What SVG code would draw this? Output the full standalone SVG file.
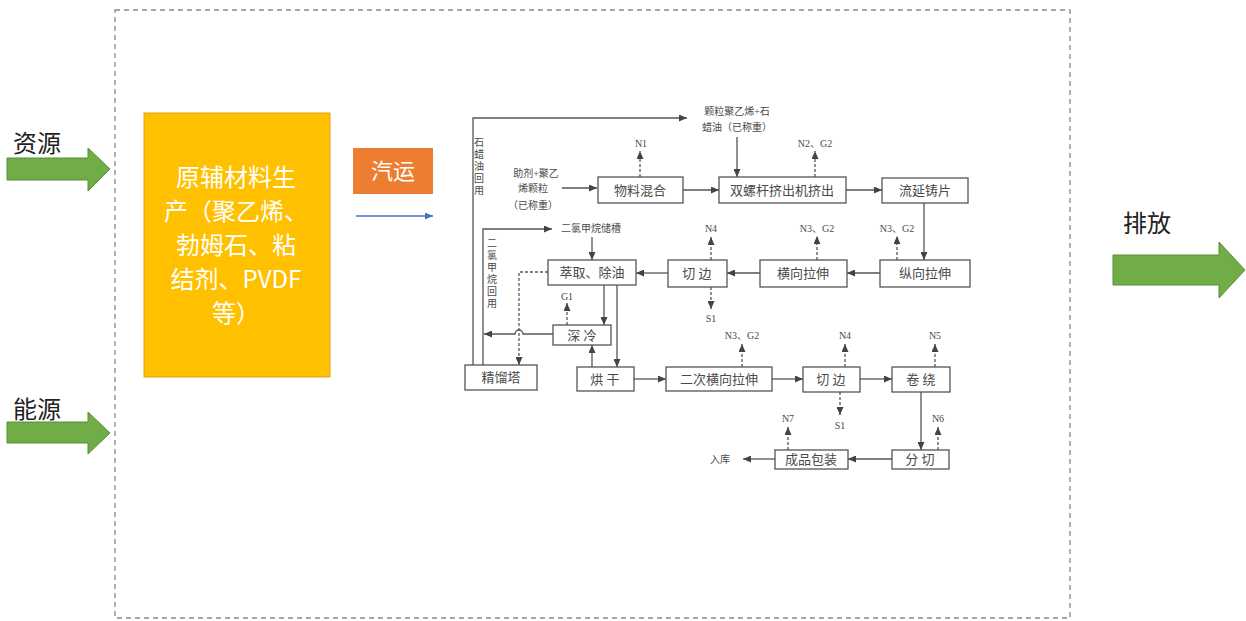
<svg xmlns="http://www.w3.org/2000/svg" width="1246" height="621" viewBox="0 0 1246 621">
<style>
.big{font-family:"Noto Sans CJK SC","Liberation Sans",sans-serif;}
.fc{font-family:"Liberation Serif","Noto Sans CJK SC",serif;fill:#4a4a4a;}
.bx{fill:#ffffff;stroke:#555;stroke-width:1.3;}
.ln{fill:none;stroke:#555;stroke-width:1.3;}
.dl{fill:none;stroke:#555;stroke-width:1.3;stroke-dasharray:3,2;}
.lbl{font-size:13px;text-anchor:middle;}
.sm{font-size:10px;text-anchor:middle;}
.gr{fill:#70ad47;stroke:#5b8f3a;stroke-width:1;}
</style>
<defs>
<marker id="ah" markerWidth="8" markerHeight="7" refX="8" refY="3.5" orient="auto" markerUnits="userSpaceOnUse">
<path d="M0,0 L8,3.5 L0,7 z" fill="#444"/>
</marker>
<marker id="bh" markerWidth="8" markerHeight="7" refX="8" refY="3.5" orient="auto" markerUnits="userSpaceOnUse">
<path d="M0,0 L8,3.5 L0,7 z" fill="#4472c4"/>
</marker>
</defs>
<rect width="1246" height="621" fill="#ffffff"/>
<g id="boundary">
<rect x="115" y="10" width="955" height="608" fill="none" stroke="#7f8ba3" stroke-width="1.3" stroke-dasharray="5,4"/>
</g>
<g id="resource">
<text class="big" x="13" y="152" font-size="24" fill="#222">资源</text>
<path class="gr" d="M7,158 H88 V148 L110,169 L88,191 V180 H7 Z"/>
</g>
<g id="energy">
<text class="big" x="13" y="418" font-size="24" fill="#222">能源</text>
<path class="gr" d="M7,422 H88 V412 L110,433 L88,454 V443 H7 Z"/>
</g>
<g id="emission">
<text class="big" x="1123" y="232" font-size="24" fill="#222">排放</text>
<path class="gr" d="M1113,255 H1219 V242 L1245,270 L1219,298 V285 H1113 Z"/>
</g>
<g id="raw-material">
<rect x="144" y="113" width="186" height="264" fill="#ffc000" stroke="#d9a21a" stroke-width="1"/>
<g class="big" font-size="24" fill="#ffffff" text-anchor="middle">
<text x="236" y="186">原辅材料生</text>
<text x="236" y="220">产（聚乙烯、</text>
<text x="236" y="254">勃姆石、粘</text>
<text x="236" y="288">结剂、PVDF</text>
<text x="236" y="322">等）</text>
</g>
</g>
<g id="transport">
<rect x="353" y="148" width="80" height="46" fill="#ed7d31"/>
<text class="big" x="393" y="179" font-size="22" fill="#ffffff" text-anchor="middle">汽运</text>
<line x1="356" y1="216" x2="433" y2="216" stroke="#4472c4" stroke-width="1.3" marker-end="url(#bh)"/>
</g>
<g id="connectors">
<polyline class="ln" points="473,365 473,118 687,118" marker-end="url(#ah)"/>
<line class="ln" x1="562" y1="188" x2="597" y2="188" marker-end="url(#ah)"/>
<line class="ln" x1="737" y1="137" x2="737" y2="177" marker-end="url(#ah)"/>
<line class="ln" x1="683" y1="190" x2="719" y2="190" marker-end="url(#ah)"/>
<line class="ln" x1="846" y1="190" x2="882" y2="190" marker-end="url(#ah)"/>
<line class="ln" x1="924" y1="203" x2="924" y2="260" marker-end="url(#ah)"/>
<line class="ln" x1="880" y1="273" x2="847" y2="273" marker-end="url(#ah)"/>
<line class="ln" x1="760" y1="273" x2="727" y2="273" marker-end="url(#ah)"/>
<line class="ln" x1="668" y1="273" x2="636" y2="273" marker-end="url(#ah)"/>
<line class="ln" x1="592" y1="237" x2="592" y2="260" marker-end="url(#ah)"/>
<polyline class="ln" points="483,365 483,229 552,229" marker-end="url(#ah)"/>
<line class="ln" x1="604" y1="285" x2="604" y2="325" marker-end="url(#ah)"/>
<line class="ln" x1="617" y1="285" x2="617" y2="367" marker-end="url(#ah)"/>
<line class="ln" x1="592" y1="367" x2="592" y2="345" marker-end="url(#ah)"/>
<path class="ln" d="M553,334 L523,334 A4,4 0 0 0 515,334 L484,334" marker-end="url(#ah)"/>
<polyline class="dl" points="548,272 519,272 519,365" marker-end="url(#ah)"/>
<line class="ln" x1="634" y1="379" x2="666" y2="379" marker-end="url(#ah)"/>
<line class="ln" x1="772" y1="379" x2="803" y2="379" marker-end="url(#ah)"/>
<line class="ln" x1="860" y1="379" x2="892" y2="379" marker-end="url(#ah)"/>
<line class="ln" x1="921" y1="392" x2="921" y2="450" marker-end="url(#ah)"/>
<line class="ln" x1="892" y1="459" x2="848" y2="459" marker-end="url(#ah)"/>
<line class="ln" x1="775" y1="459" x2="743" y2="459" marker-end="url(#ah)"/>
<line class="dl" x1="640" y1="177" x2="640" y2="151" marker-end="url(#ah)"/>
<line class="dl" x1="815" y1="177" x2="815" y2="151" marker-end="url(#ah)"/>
<line class="dl" x1="897" y1="260" x2="897" y2="236" marker-end="url(#ah)"/>
<line class="dl" x1="817" y1="260" x2="817" y2="236" marker-end="url(#ah)"/>
<line class="dl" x1="711" y1="260" x2="711" y2="237" marker-end="url(#ah)"/>
<line class="dl" x1="711" y1="287" x2="711" y2="309" marker-end="url(#ah)"/>
<line class="dl" x1="567" y1="325" x2="567" y2="303" marker-end="url(#ah)"/>
<line class="dl" x1="742" y1="367" x2="742" y2="344" marker-end="url(#ah)"/>
<line class="dl" x1="845" y1="367" x2="845" y2="344" marker-end="url(#ah)"/>
<line class="dl" x1="840" y1="392" x2="840" y2="415" marker-end="url(#ah)"/>
<line class="dl" x1="935" y1="367" x2="935" y2="344" marker-end="url(#ah)"/>
<line class="dl" x1="938" y1="450" x2="938" y2="427" marker-end="url(#ah)"/>
<line class="dl" x1="788" y1="450" x2="788" y2="427" marker-end="url(#ah)"/>
</g>
<g id="flow-labels" class="fc">
<text class="sm" x="737" y="115" font-size="11">颗粒聚乙烯+石</text>
<text class="sm" x="737" y="131" font-size="11">蜡油（已称重）</text>
<text class="sm" x="536" y="177" font-size="11">助剂+聚乙</text>
<text class="sm" x="533" y="192" font-size="11">烯颗粒</text>
<text class="sm" x="533" y="209" font-size="11">（已称重）</text>
<text class="sm" x="591" y="232" font-size="11">二氯甲烷储槽</text>
<g class="sm">
<text x="479" y="146">石</text><text x="479" y="158">蜡</text><text x="479" y="170">油</text><text x="479" y="182">回</text><text x="479" y="194">用</text>
<text x="492" y="247">二</text><text x="492" y="259">氯</text><text x="492" y="271">甲</text><text x="492" y="283">烷</text><text x="492" y="295">回</text><text x="492" y="307">用</text>
</g>
<text class="sm" x="641" y="147">N1</text>
<text class="sm" x="815" y="147">N2、G2</text>
<text class="sm" x="897" y="232">N3、G2</text>
<text class="sm" x="817" y="232">N3、G2</text>
<text class="sm" x="711" y="232">N4</text>
<text class="sm" x="711" y="322">S1</text>
<text class="sm" x="567" y="300">G1</text>
<text class="sm" x="742" y="339">N3、G2</text>
<text class="sm" x="845" y="339">N4</text>
<text class="sm" x="840" y="429">S1</text>
<text class="sm" x="935" y="339">N5</text>
<text class="sm" x="938" y="422">N6</text>
<text class="sm" x="788" y="422">N7</text>
<text class="sm" x="720" y="463" font-size="11">入库</text>
</g>
<g id="mixing" class="fc"><rect class="bx" x="598" y="177" width="85" height="26"/><text class="lbl" x="640" y="194.5">物料混合</text></g>
<g id="extrusion" class="fc"><rect class="bx" x="719" y="177" width="127" height="26"/><text class="lbl" x="782" y="194.5">双螺杆挤出机挤出</text></g>
<g id="casting" class="fc"><rect class="bx" x="882" y="178" width="86" height="25"/><text class="lbl" x="925" y="195">流延铸片</text></g>
<g id="md-stretch" class="fc"><rect class="bx" x="880" y="260" width="90" height="27"/><text class="lbl" x="925" y="278">纵向拉伸</text></g>
<g id="td-stretch" class="fc"><rect class="bx" x="760" y="260" width="87" height="27"/><text class="lbl" x="803" y="278">横向拉伸</text></g>
<g id="trim1" class="fc"><rect class="bx" x="668" y="260" width="59" height="27"/><text class="lbl" x="697" y="278">切 边</text></g>
<g id="extract" class="fc"><rect class="bx" x="548" y="260" width="88" height="25"/><text class="lbl" x="592" y="277">萃取、除油</text></g>
<g id="chill" class="fc"><rect class="bx" x="553" y="325" width="58" height="20"/><text class="lbl" x="582" y="339.5">深 冷</text></g>
<g id="distill" class="fc"><rect class="bx" x="465" y="365" width="72" height="25"/><text class="lbl" x="501" y="382">精馏塔</text></g>
<g id="dry" class="fc"><rect class="bx" x="577" y="367" width="57" height="24"/><text class="lbl" x="605" y="383.5">烘 干</text></g>
<g id="td2-stretch" class="fc"><rect class="bx" x="666" y="367" width="106" height="24"/><text class="lbl" x="719" y="383.5">二次横向拉伸</text></g>
<g id="trim2" class="fc"><rect class="bx" x="803" y="367" width="57" height="25"/><text class="lbl" x="831" y="384">切 边</text></g>
<g id="winding" class="fc"><rect class="bx" x="892" y="367" width="58" height="25"/><text class="lbl" x="921" y="384">卷 绕</text></g>
<g id="slitting" class="fc"><rect class="bx" x="892" y="450" width="57" height="19"/><text class="lbl" x="920" y="464">分 切</text></g>
<g id="packing" class="fc"><rect class="bx" x="775" y="450" width="73" height="19"/><text class="lbl" x="811" y="464">成品包装</text></g>
</svg>
